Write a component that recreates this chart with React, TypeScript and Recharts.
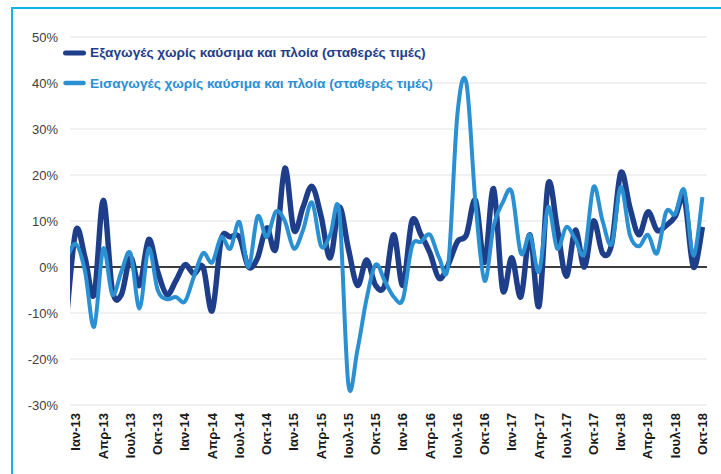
import React from 'react';
import { LineChart, Line, XAxis, YAxis, CartesianGrid, ReferenceLine, Legend } from 'recharts';

// Month index: -1 = Δεκ-12, 0 = Ιαν-13 ... 69 = Οκτ-18
const monthIndex = [
  -1, 0, 1, 2, 3, 4, 5, 6, 7, 8, 9, 10, 11, 12, 13, 14, 15, 16, 17, 18, 19, 20, 21, 22, 23, 24, 25, 26, 27, 28, 29,
  30, 31, 32, 33, 34, 35, 36, 37, 38, 39, 40, 41, 42, 43, 44, 45, 46, 47, 48, 49, 50, 51, 52, 53, 54, 55, 56, 57, 58,
  59, 60, 61, 62, 63, 64, 65, 66, 67, 68, 69,
];

const exportsSeries = [
  -10, 8, 2, -6, 14.5, -5, -6, 2, -4, 6, -1, -6, -3, 0.5, -1.5, 0, -9.5, 6, 6.5, 6.5, 0, 2, 8.5, 4, 21.5, 8, 13, 17.5, 11,
  2, 13, 4, -4, 1.5, -4, -4, 7, -4, 10, 7, 3, -2.5, 0.5, 5.5, 7, 14.5, 1, 17, -5, 2, -6.5, 7, -8.5, 18, 8.5, -2, 8, 0,
  10, 3, 5, 20.5, 13, 7, 12, 8, 9, 11, 15, 0, 8.7,
];

const importsSeries = [
  2, 5, -1, -13, 4, -6, -1, 3, -9, 4, -5, -7, -6.5, -7.5, -2, 3, 1, 6.5, 4, 9.8, 0, 11, 6.5, 12, 10, 4, 8, 14, 4.5, 7,
  12, -25.5, -18, -7, 0.5, -3, -6.5, -7, 4.5, 5.5, 7, 2, 0.5, 33, 40, 14, -3, 9, 14, 16.3, 3, 7, -1, 13, 4, 8.7, 6, 3,
  17.4, 10, 5, 17.4, 7, 4.5, 7, 3, 12, 11.5, 16.7, 2.5, 15.2,
];

const tickIndex = [0, 3, 6, 9, 12, 15, 18, 21, 24, 27, 30, 33, 36, 39, 42, 45, 48, 51, 54, 57, 60, 63, 66, 69];
const tickLabels = [
  'Ιαν-13', 'Απρ-13', 'Ιουλ-13', 'Οκτ-13',
  'Ιαν-14', 'Απρ-14', 'Ιουλ-14', 'Οκτ-14',
  'Ιαν-15', 'Απρ-15', 'Ιουλ-15', 'Οκτ-15',
  'Ιαν-16', 'Απρ-16', 'Ιουλ-16', 'Οκτ-16',
  'Ιαν-17', 'Απρ-17', 'Ιουλ-17', 'Οκτ-17',
  'Ιαν-18', 'Απρ-18', 'Ιουλ-18', 'Οκτ-18',
];

const yTicks = [-30, -20, -10, 0, 10, 20, 30, 40, 50];

const seriesNames = [
  'Εξαγωγές χωρίς καύσιμα και πλοία (σταθερές τιμές)',
  'Εισαγωγές χωρίς καύσιμα και πλοία (σταθερές τιμές)',
];

const DARK = '#1F3E8A';
const LIGHT = '#2A90D2';
const FONT = '"Liberation Sans", Arial, sans-serif';

const data = monthIndex.map((idx, i) => ({ idx, exp: exportsSeries[i], imp: importsSeries[i] }));

// Excel-like smoothed line (Catmull-Rom style bezier)
function excelSmooth(context: any) {
  let pts: [number, number][] = [];
  return {
    areaStart() {},
    areaEnd() {},
    lineStart() {
      pts = [];
    },
    lineEnd() {
      const n = pts.length;
      if (!n) return;
      context.moveTo(pts[0][0], pts[0][1]);
      if (n === 2) {
        context.lineTo(pts[1][0], pts[1][1]);
        return;
      }
      const t = 1 / 6;
      for (let i = 0; i < n - 1; i++) {
        const p0 = pts[i - 1] || pts[i];
        const p1 = pts[i];
        const p2 = pts[i + 1];
        const p3 = pts[i + 2] || p2;
        context.bezierCurveTo(
          p1[0] + (p2[0] - p0[0]) * t,
          p1[1] + (p2[1] - p0[1]) * t,
          p2[0] - (p3[0] - p1[0]) * t,
          p2[1] - (p3[1] - p1[1]) * t,
          p2[0],
          p2[1]
        );
      }
    },
    point(x: number, y: number) {
      pts.push([x, y]);
    },
  };
}

const XTick = (props: any) => {
  const { x, y, payload } = props;
  const k = tickIndex.indexOf(payload.value);
  const label = k >= 0 ? tickLabels[k] : '';
  return (
    <text
      x={x}
      y={y}
      transform={`rotate(-90 ${x} ${y})`}
      textAnchor="end"
      dominantBaseline="central"
      fontSize={13}
      fontWeight="bold"
      fontFamily={FONT}
      fill="#1a1a1a"
    >
      {label}
    </text>
  );
};

const LegendContent = () => {
  const rows = [
    { name: seriesNames[0], color: DARK, width: 5, cy: 52.5 },
    { name: seriesNames[1], color: LIGHT, width: 4.5, cy: 83.3 },
  ];
  return (
    <div style={{ position: 'relative', width: 721, height: 474 }}>
      {rows.map((r) => (
        <React.Fragment key={r.name}>
          <svg
            width={30}
            height={12}
            style={{ position: 'absolute', left: 60, top: r.cy - 6 }}
          >
            <line x1={5.5} y1={6} x2={23.5} y2={6} stroke={r.color} strokeWidth={r.width} strokeLinecap="round" />
          </svg>
          <div
            style={{
              position: 'absolute',
              left: 90,
              top: r.cy - 8.5,
              lineHeight: '17px',
              fontSize: 13.7,
              fontWeight: 'bold',
              fontFamily: FONT,
              color: r.color,
              whiteSpace: 'nowrap',
            }}
          >
            {r.name}
          </div>
        </React.Fragment>
      ))}
    </div>
  );
};

export default function App() {
  return (
    <div
      style={{
        position: 'absolute',
        left: 0,
        top: 0,
        width: 721,
        height: 474,
        overflow: 'hidden',
        background: '#fff',
        fontFamily: FONT,
      }}
    >
      <div
        style={{
          position: 'absolute',
          left: 11,
          top: 7,
          width: 800,
          height: 600,
          borderLeft: '2px solid #14B2EA',
          borderTop: '2px solid #14B2EA',
        }}
      />
      <div style={{ position: 'absolute', left: 0, top: 0 }}>
        <LineChart width={721} height={474} data={data} margin={{ top: 37, right: 14, left: 10, bottom: 9 }}>
          <CartesianGrid vertical={false} stroke="#E4E4E4" strokeWidth={1.2} />
          <XAxis
            type="number"
            dataKey="idx"
            domain={[-0.66, 69.5]}
            allowDataOverflow
            ticks={tickIndex}
            interval={0}
            tick={<XTick />}
            axisLine={false}
            tickLine={false}
            height={60}
            tickSize={6}
            tickMargin={2}
          />
          <YAxis
            type="number"
            domain={[-30, 50]}
            ticks={yTicks}
            interval={0}
            allowDataOverflow
            tickFormatter={(v: number) => `${v}%`}
            axisLine={false}
            tickLine={false}
            width={60}
            tickSize={6}
            tickMargin={6}
            tick={{ fontSize: 13, fill: '#404040', fontFamily: FONT }}
          />
          <ReferenceLine y={0} stroke="#000" strokeWidth={1.5} />
          <Legend
            layout="horizontal"
            verticalAlign="middle"
            align="center"
            wrapperStyle={{ left: 0, top: 0, width: 721, height: 474, pointerEvents: 'none' }}
            content={<LegendContent />}
          />
          <Line
            dataKey="exp"
            name={seriesNames[0]}
            type={excelSmooth as any}
            stroke={DARK}
            strokeWidth={5.5}
            dot={false}
            activeDot={false}
            isAnimationActive={false}
            strokeLinejoin="round"
          />
          <Line
            dataKey="imp"
            name={seriesNames[1]}
            type={excelSmooth as any}
            stroke={LIGHT}
            strokeWidth={4}
            dot={false}
            activeDot={false}
            isAnimationActive={false}
            strokeLinejoin="round"
          />
        </LineChart>
      </div>
    </div>
  );
}
